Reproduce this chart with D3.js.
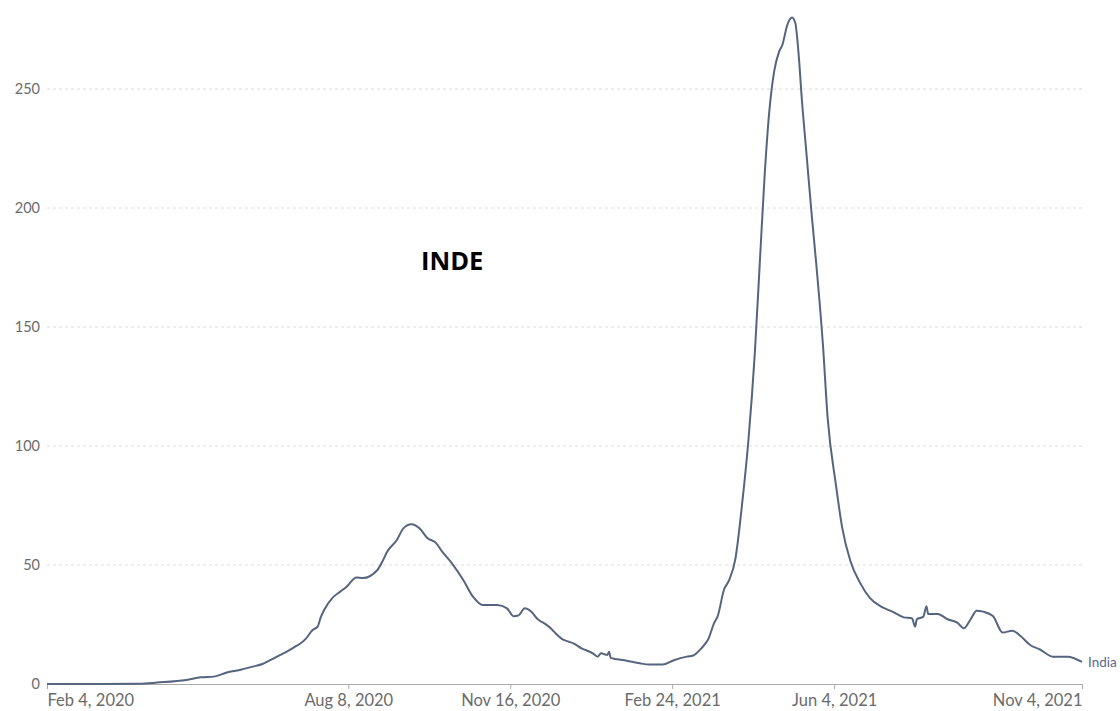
<!DOCTYPE html>
<html>
<head>
<meta charset="utf-8">
<script src="https://cdn.jsdelivr.net/npm/d3@7"></script>
<style>
  body { margin: 0; background: #fff; }
  svg { display: block; font-family: Lato, "Open Sans", sans-serif; }
</style>
</head>
<body>
<div id="chart"></div>
<script>
// India, new cases per million (7-day avg)
const dates = [
  "2020-02-04","2020-03-08","2020-04-01","2020-04-12","2020-04-30","2020-05-09","2020-05-17","2020-05-25",
  "2020-06-02","2020-06-10","2020-06-16","2020-06-23","2020-06-27","2020-07-01","2020-07-07","2020-07-09",
  "2020-07-13","2020-07-17","2020-07-20","2020-07-22","2020-07-24","2020-07-29","2020-07-30","2020-08-03",
  "2020-08-07","2020-08-13","2020-08-17","2020-08-26","2020-08-29","2020-09-01","2020-09-07","2020-09-11",
  "2020-09-16","2020-09-21","2020-09-26","2020-10-01","2020-10-05","2020-10-11","2020-10-18","2020-10-24",
  "2020-10-30","2020-11-08","2020-11-14","2020-11-18","2020-11-21","2020-11-25","2020-11-29","2020-12-03",
  "2020-12-07","2020-12-11","2020-12-13","2020-12-19","2020-12-22","2020-12-25","2020-12-30","2021-01-06",
  "2021-01-09","2021-01-11","2021-01-15","2021-01-16","2021-01-17","2021-01-27","2021-02-04","2021-02-10",
  "2021-02-18","2021-02-25","2021-03-05","2021-03-09","2021-03-12","2021-03-17","2021-03-18","2021-03-22",
  "2021-03-24","2021-03-28","2021-03-31","2021-04-04","2021-04-08","2021-04-12","2021-04-16","2021-04-19",
  "2021-04-22","2021-04-25","2021-04-28","2021-05-01","2021-05-03","2021-05-06","2021-05-09","2021-05-11",
  "2021-05-13","2021-05-15","2021-05-18","2021-05-21","2021-05-24","2021-05-28","2021-05-31","2021-06-05",
  "2021-06-09","2021-06-14","2021-06-20","2021-06-26","2021-07-03","2021-07-10","2021-07-17","2021-07-22",
  "2021-07-24","2021-07-25","2021-07-29","2021-07-31","2021-08-01","2021-08-07","2021-08-13","2021-08-19",
  "2021-08-23","2021-08-27","2021-08-31","2021-09-04","2021-09-10","2021-09-16","2021-09-22","2021-09-27",
  "2021-10-03","2021-10-09","2021-10-17","2021-10-26","2021-11-04"
];
const values = [
  0, 0, 0.1, 0.6, 1.7, 2.8, 3.1, 4.8,
  5.9, 7.3, 8.4, 10.8, 12.2, 13.6, 16, 16.8,
  19.2, 22.7, 24, 28, 31, 36, 36.7, 38.8,
  40.9, 44.8, 44.5, 47.9, 51.4, 55.6, 60.5, 65.4,
  67.1, 65.4, 61.2, 59.4, 55.6, 50.7, 43.7, 36.7,
  33.2, 33.2, 31.8, 28.5, 28.8, 31.8, 30.4, 27.2,
  25.5, 23.4, 22, 18.5, 17.8, 17.1, 15, 12.9,
  11.5, 12.9, 12.2, 13.6, 11, 9.8, 8.7, 8.2,
  8.2, 10, 11.5, 12, 13.6, 17.5, 18.5, 25.8,
  28.3, 39.7, 43.4, 52.6, 74.7, 102, 139, 176,
  213, 241, 257.6, 265.7, 268.5, 276.8, 280, 277.7,
  265, 246, 222, 198, 176, 143, 111.6, 84,
  65.5, 51.7, 42.5, 36.2, 32.5, 30.4, 28, 27.6,
  24.1, 27.2, 28.3, 32.7, 29.4, 29.4, 27.2, 25.8,
  23.4, 26.9, 30.8, 30.4, 28.6, 21.6, 22.4, 20.2,
  16.4, 14.5, 11.5, 11.5, 9.3
];
const yTicks = [0, 50, 100, 150, 200, 250];
const xTicks = ["2020-02-04","2020-08-08","2020-11-16","2021-02-24","2021-06-04","2021-11-04"];
const seriesName = "India";
const title = "INDE";

const width = 1120, height = 711;
const margin = {top: 20, right: 38, bottom: 27, left: 47};

const parse = d3.timeParse("%Y-%m-%d");
const fmt = d3.timeFormat("%b %-d, %Y");
const data = dates.map((d, i) => ({date: parse(d), value: values[i]}));

const x = d3.scaleTime()
  .domain([parse(dates[0]), parse(dates[dates.length-1])])
  .range([margin.left, width - margin.right]);
const y = d3.scaleLinear()
  .domain([0, 250])
  .range([height - margin.bottom, 89]);

const svg = d3.select('#chart').append('svg')
  .attr('width', width)
  .attr('height', height);

// grid
svg.append('g')
  .selectAll('line')
  .data(yTicks.filter(d => d > 0))
  .enter().append('line')
    .attr('x1', margin.left)
    .attr('x2', width - margin.right)
    .attr('y1', d => y(d))
    .attr('y2', d => y(d))
    .attr('stroke', '#dcdcdc')
    .attr('stroke-dasharray', '3,3');

// y labels
svg.append('g')
  .selectAll('text')
  .data(yTicks)
  .enter().append('text')
    .attr('x', margin.left - 7)
    .attr('y', d => y(d))
    .attr('dy', '0.35em')
    .attr('text-anchor', 'end')
    .attr('fill', '#6b6b6b')
    .style('font-size', '14.5px')
    .text(d => d);

// x axis
const xAxis = d3.axisBottom(x)
  .tickValues(xTicks.map(parse))
  .tickSize(5)
  .tickFormat(fmt);
const gx = svg.append('g')
  .attr('transform', `translate(0,${y(0)})`)
  .call(xAxis);
gx.select('.domain').attr('stroke', '#aaa');
gx.selectAll('.tick line').attr('stroke', '#aaa');
gx.selectAll('.tick text')
  .attr('fill', '#6b6b6b')
  .attr('y', 10)
  .style('font-size', '16.5px')
  .style('font-family', 'Lato, sans-serif');
gx.selectAll('.tick text')
  .filter((d, i) => i === 0).attr('text-anchor', 'start');
gx.selectAll('.tick text')
  .filter((d, i) => i === xTicks.length - 1).attr('text-anchor', 'end');

// line
const line = d3.line()
  .x(d => x(d.date))
  .y(d => y(d.value))
  .curve(d3.curveMonotoneX);

svg.append('path')
  .datum(data)
  .attr('fill', 'none')
  .attr('stroke', '#56657f')
  .attr('stroke-width', 2)
  .attr('stroke-linejoin', 'round')
  .attr('d', line);

// series label
const last = data[data.length-1];
svg.append('text')
  .attr('x', x(last.date) + 6)
  .attr('y', y(last.value))
  .attr('dy', '0.35em')
  .attr('fill', '#5b6b8c')
  .style('font-size', '13.5px')
  .text(seriesName);

// title
svg.append('text')
  .attr('x', 421)
  .attr('y', 270)
  .attr('fill', '#000')
  .style('font-family', '"Open Sans", sans-serif')
  .style('font-weight', 700)
  .style('font-size', '25.5px')
  .text(title);
</script>
</body>
</html>
